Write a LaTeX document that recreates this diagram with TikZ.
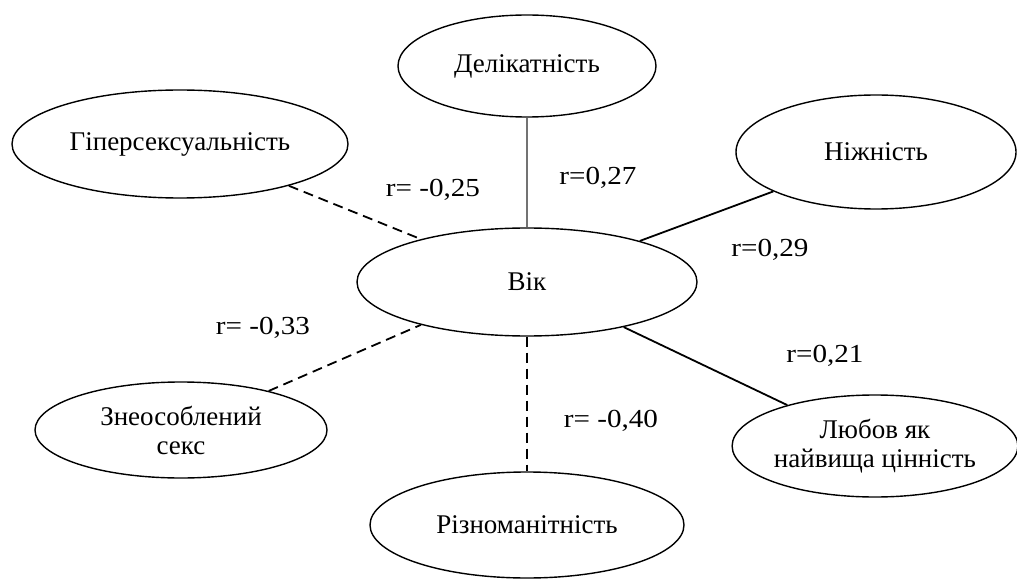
\documentclass[tikz,border=0pt]{standalone}
\usepackage{fontspec}
\setmainfont{Liberation Serif}
\newfontfamily\lblfont[FakeStretch=1.12]{Liberation Serif}
\usetikzlibrary{shapes.geometric}
\begin{document}
\begin{tikzpicture}[x=1pt,y=-1pt,
  ell/.style={ellipse,draw,line width=1.4pt,inner sep=0pt,align=center,font=\fontsize{27}{29}\selectfont},
  posline/.style={line width=1.8pt},
  grayline/.style={line width=2pt,draw=black!55},
  negline/.style={line width=1.8pt,dash pattern=on 10pt off 6pt},
  lbl/.style={font=\lblfont\fontsize{26}{28}\selectfont,inner sep=0pt}]
\useasboundingbox[fill=white] (0,0) rectangle (1017,580);
\node[ell,minimum width=340pt,minimum height=108pt] (vik) at (527,282) {Вік};
\node[ell,minimum width=258pt,minimum height=102pt] (del) at (527,66) {Делікатність};
\node[ell,minimum width=336pt,minimum height=108pt] (hyp) at (180,144) {Гіперсексуальність};
\node[ell,minimum width=280pt,minimum height=114pt] (nizh) at (876,152) {Ніжність};
\node[ell,minimum width=292pt,minimum height=96pt] (zne) at (181,430) {Знеособлений\\секс};
\node[ell,minimum width=280pt,minimum height=102pt] (lub) at (875,446) {Любов як\\найвища цінність};
\node[ell,minimum width=314pt,minimum height=106pt] (riz) at (527,525) {Різноманітність};
\draw[grayline] (del.south) -- (vik.north);
\draw[negline] (hyp.-21) -- (vik.158);
\draw[posline] (nizh.201) -- (vik.20);
\draw[negline] (zne.24) -- (vik.202);
\draw[negline] (vik.south) -- (riz.north);
\draw[posline] (lub.155) -- (vik.-25);
\node[lbl] (l1) at (433,190) {r= -0,25};
\node[lbl] (l2) at (598,178) {r=0,27};
\node[lbl] (l3) at (770,250) {r=0,29};
\node[lbl] (l4) at (825,356) {r=0,21};
\node[lbl] (l5) at (263,328) {r= -0,33};
\node[lbl] (l6) at (611,421) {r= -0,40};
\end{tikzpicture}
\end{document}
